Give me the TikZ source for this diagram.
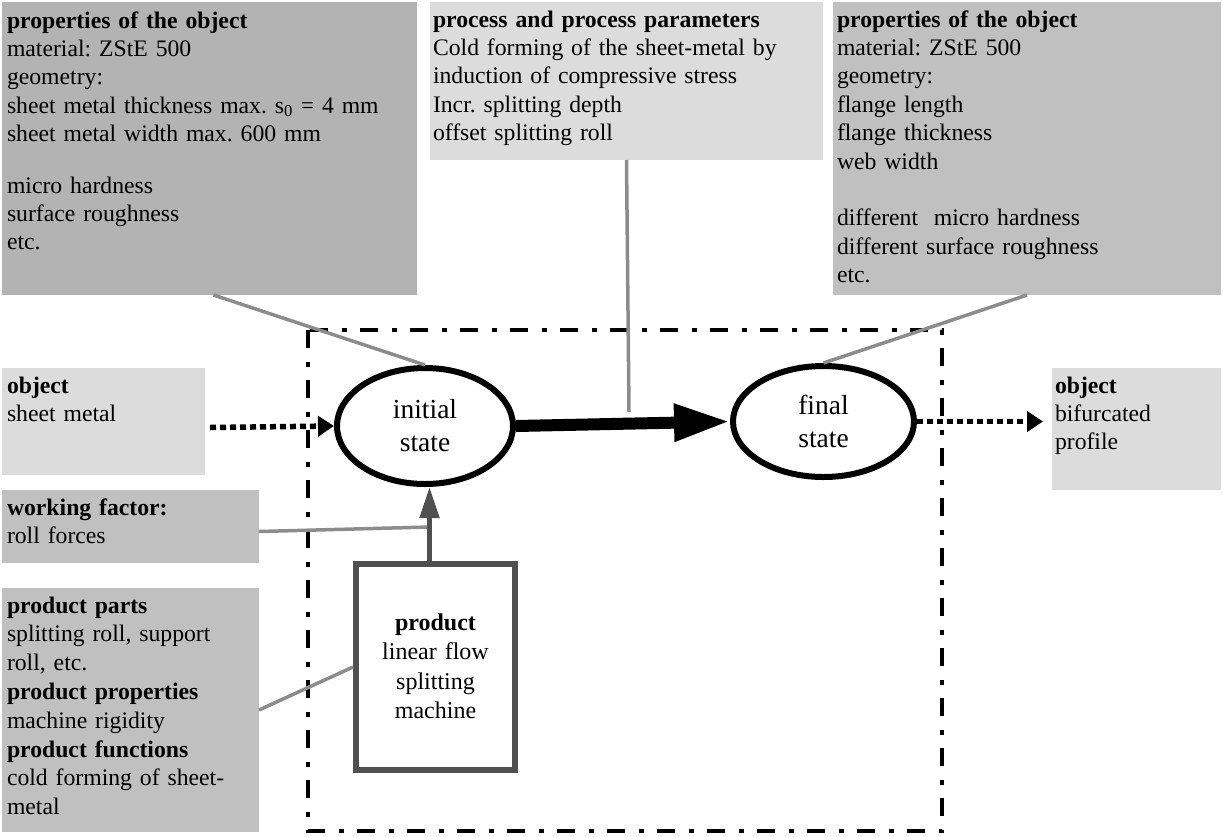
\documentclass[tikz,border=0pt]{standalone}
\usepackage{fontspec}
\setmainfont{Liberation Serif}
\usetikzlibrary{arrows.meta,shapes.geometric}
\definecolor{boxA}{HTML}{B3B3B3}
\definecolor{boxB}{HTML}{C0C0C0}
\definecolor{boxC}{HTML}{DCDCDC}
\definecolor{conn}{HTML}{8C8C8C}
\definecolor{prodc}{HTML}{505050}
\frenchspacing
\begin{document}
\begin{tikzpicture}[x=1pt,y=-1pt,
  bg/.style={anchor=north west, inner sep=0pt, outer sep=0pt},
  txt/.style={anchor=base west, align=left, inner sep=0pt, outer sep=0pt,
    font=\frenchspacing\fontsize{23.7}{28.4}\selectfont},
  state/.style={ellipse, draw, line width=6pt, fill=white, inner sep=0pt,
    align=center, font=\fontsize{27.5}{33}\selectfont},
  conline/.style={draw=conn, line width=3.5pt},
  dotarrow/.style={line width=5.5pt, dash pattern=on 6pt off 4pt,
    -{Triangle[length=16pt,width=20pt]}},
  framestyle/.style={line width=4.5pt, dash pattern=on 18pt off 13.5pt on 5pt off 13.5pt},
]
\useasboundingbox (0,0) rectangle (1223,836);

% frame
\draw[framestyle] (308,330) rectangle (942,831);

% boxes
\node[bg, fill=boxA, minimum width=415pt, minimum height=293pt] (tl) at (2,2) {};
\node[bg, fill=boxC, minimum width=393pt, minimum height=158pt] (tm) at (430,2) {};
\node[bg, fill=boxB, minimum width=388pt, minimum height=293pt] (tr) at (833,2) {};
\node[bg, fill=boxC, minimum width=203pt, minimum height=107pt] (objL) at (2,368) {};
\node[bg, fill=boxB, minimum width=257pt, minimum height=73pt] (work) at (2,490) {};
\node[bg, fill=boxB, minimum width=257pt, minimum height=244pt] (parts) at (2,588) {};
\node[bg, fill=boxC, minimum width=169pt, minimum height=122pt] (objR) at (1052,368) {};

% texts
\node[txt, text width=410pt] (tlt) at (7,28) {\textbf{properties of the object}\\
material: ZStE 500\\
geometry:\\
sheet metal thickness max. s\textsubscript{0} = 4 mm\\
sheet metal width max. 600 mm\\[23pt]
micro hardness\\
surface roughness\\
etc.};
\node[txt, text width=390pt] (tmt) at (433,27) {\textbf{process and process parameters}\\
Cold forming of the sheet-metal by\\
induction of compressive stress\\
Incr. splitting depth\\
offset splitting roll};
\node[txt, text width=385pt] (trt) at (837,27) {\textbf{properties of the object}\\
material: ZStE 500\\
geometry:\\
flange length\\
flange thickness\\
web width\\[28.4pt]
different~ micro hardness\\
different surface roughness\\
etc.};
\node[txt, text width=200pt] (objLt) at (7,393) {\textbf{object}\\ sheet metal};
\node[txt, text width=250pt] (workt) at (7,515) {\textbf{working factor:}\\ roll forces};
\node[txt, text width=250pt, font=\frenchspacing\fontsize{23.7}{28.8}\selectfont] (partst) at (7,613) {\textbf{product parts}\\
splitting roll, support\\
roll, etc.\\
\textbf{product properties}\\
machine rigidity\\
\textbf{product functions}\\
cold forming of sheet-\\
metal};
\node[txt, text width=165pt] (objRt) at (1055,393) {\textbf{object}\\ bifurcated\\ profile};

% states
\node[state, minimum width=176pt, minimum height=116pt] (init) at (425,426) {initial\\state};
\node[state, minimum width=181pt, minimum height=111pt] (final) at (823.5,421.5) {final\\state};

% product box
\node[draw=prodc, line width=6pt, fill=white, minimum width=159pt, minimum height=206pt,
  inner sep=0pt] (prod) at (435.5,667) {};
\node[anchor=base, align=center, text width=160pt, inner sep=0pt,
  font=\fontsize{24}{29.5}\selectfont] (prodt) at (435.5,630)
  {\textbf{product}\\ linear flow\\ splitting\\ machine};

% coordinates
\coordinate (wf) at (429.5,527);
\coordinate (pp) at (629,412);

% connectors
\draw[conline] ([xshift=4pt]tl.south) -- (init.north);
\draw[conline] (tm.south) -- (pp);
\draw[conline] (tr.south) -- (final.north);
\draw[conline] ([yshift=-5pt]work.east) -- (wf);
\draw[conline] (parts.east) -- (prod.west);

\draw[prodc, line width=5pt, -{Triangle[length=31pt,width=19pt]}]
  ([xshift=-6pt]prod.north) -- ([xshift=-6pt]prod.north |- init.south);

\draw[line width=12pt, -{Triangle[length=56pt,width=35pt]}] (init.east) -- (final.west);

\draw[dotarrow] ([xshift=5pt,yshift=-6pt]objL.east) -- (init.west);
\draw[dotarrow, shorten >=9pt] (final.east) -- (final.east -| objR.west);
\end{tikzpicture}
\end{document}
